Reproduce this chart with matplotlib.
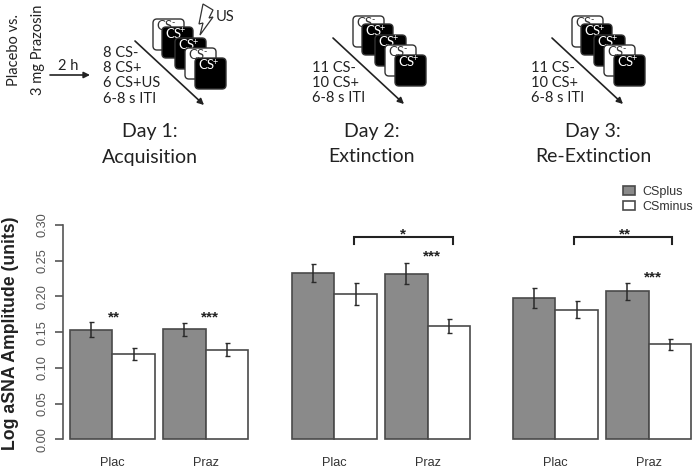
import numpy as np
import matplotlib
matplotlib.use("Agg")
import matplotlib.pyplot as plt
from matplotlib.patches import FancyBboxPatch, Polygon

# values
groups = ["Plac", "Praz"]
ticks = [0.00, 0.05, 0.10, 0.15, 0.20, 0.25, 0.30]

day1_plus = [0.1535, 0.154]
day1_minus = [0.119, 0.1255]
day1_plus_err = [0.0105, 0.0095]
day1_minus_err = [0.0085, 0.009]

day2_plus = [0.233, 0.232]
day2_minus = [0.203, 0.1587]
day2_plus_err = [0.013, 0.0145]
day2_minus_err = [0.0152, 0.0095]

day3_plus = [0.198, 0.207]
day3_minus = [0.1815, 0.133]
day3_plus_err = [0.014, 0.012]
day3_minus_err = [0.0123, 0.008]

W, H = 697, 470
GREY = "#8a8a8a"
EDGE = "#4a4a4a"
INK = "#2a2a2a"
UNIT = 42.4  # px per bar
BASE = 439.3
PX_PER_Y = 714.3
SANS = "Liberation Sans"
SCHEME = "Lato"

fig = plt.figure(figsize=(W / 100, H / 100), dpi=100)


def panel(left, plus, minus, plus_err, minus_err):
    ax = fig.add_axes([left / W, 1 - BASE / H, 4.2 * UNIT / W, 0.30 * PX_PER_Y / H])
    x = np.array([0.5, 2.7])
    b1 = ax.bar(x, plus, 1, color=GREY, edgecolor=EDGE, linewidth=1.2, label="CSplus", clip_on=False)
    b2 = ax.bar(x + 1, minus, 1, color="white", edgecolor=EDGE, linewidth=1.2, label="CSminus", clip_on=False)
    ax.errorbar(x, plus, yerr=plus_err, fmt="none", ecolor=INK, elinewidth=1.1, capsize=1.8, capthick=1)
    ax.errorbar(x + 1, minus, yerr=minus_err, fmt="none", ecolor=INK, elinewidth=1.1, capsize=1.8, capthick=1)
    ax.set_xlim(0, 4.2)
    ax.set_ylim(0, 0.30)
    ax.set_xticks([1, 3.2])
    ax.set_xticklabels(groups, fontsize=9.2, family=SANS, color="#333333")
    ax.tick_params(axis="x", length=0, pad=12.5)
    for s in ["top", "right", "left", "bottom"]:
        ax.spines[s].set_visible(False)
    ax.set_yticks([])
    ax.patch.set_alpha(0)
    return ax, b1, b2


def bracket(ax, x0, x1, y=0.283, drop=0.009):
    ax.plot([x0, x0, x1, x1], [y - drop, y, y, y - drop], color="#222222", lw=1.5,
            clip_on=False, solid_joinstyle="miter")


ax1, b1, b2 = panel(70, day1_plus, day1_minus, day1_plus_err, day1_minus_err)
ax2, _, _ = panel(292, day2_plus, day2_minus, day2_plus_err, day2_minus_err)
ax3, _, _ = panel(513, day3_plus, day3_minus, day3_plus_err, day3_minus_err)

ax1.spines["left"].set_visible(True)
ax1.spines["left"].set_position(("outward", 5))
ax1.spines["left"].set_color("#555555")
ax1.spines["left"].set_linewidth(1.2)
ax1.set_yticks(ticks)
ax1.set_yticklabels(["%.2f" % t for t in ticks], rotation=90, va="center", fontsize=9.2,
                    family=SANS, color="#555555")
ax1.tick_params(axis="y", length=6, width=1.2, color="#555555", pad=4.5)

bracket(ax2, 1.46, 3.79)
bracket(ax3, 1.44, 3.75)

fig.legend([b1, b2], ["CSplus", "CSminus"], loc="upper left",
           bbox_to_anchor=(623 / W, 1 - 186 / H), frameon=False,
           prop={"family": SANS, "size": 9}, labelcolor="#333333",
           handlelength=0.95, handleheight=0.75, handletextpad=0.6, labelspacing=0.2,
           borderpad=0, borderaxespad=0)

# schematic and annotations, in pixel coordinates
top = fig.add_axes([0, 0, 1, 1])
top.set_xlim(0, W)
top.set_ylim(H, 0)
top.axis("off")
top.patch.set_alpha(0)


def stim(x, y, black, z):
    face = "black" if black else "white"
    top.add_patch(FancyBboxPatch((x + 3, y + 3), 25, 25, boxstyle="round,pad=3,rounding_size=4",
                                 fc=face, ec="#333333", lw=1.0, zorder=z))
    col = "white" if black else "#333333"
    top.text(x + 3, y + 7, "CS", fontsize=9.5, family=SCHEME, color=col, va="center", zorder=z)
    top.text(x + 18, y + 4, "+" if black else "-", fontsize=6.5, family=SCHEME, color=col,
             va="center", zorder=z)


def cards(dx, dy):
    for i, (x, y, k) in enumerate([(153, 19, False), (162, 27, True), (175, 38, True),
                                   (185, 48, False), (195, 58, True)]):
        stim(x + dx, y + dy, k, 3 + i)


def arrow(x0, y0, x1, y1):
    top.annotate("", xy=(x1, y1), xytext=(x0, y0),
                 arrowprops=dict(arrowstyle="-|>", color="#222222", lw=1.2, mutation_scale=9,
                                 shrinkA=0, shrinkB=0))


def lines(x, ys, labels):
    for y, s in zip(ys, labels):
        top.text(x, y, s, fontsize=10.5, family=SCHEME, color="#222222", va="center")


def title(x, a, b):
    top.text(x, 131, a, fontsize=14, family=SCHEME, color="#222222", ha="center", va="center")
    top.text(x, 157, b, fontsize=14, family=SCHEME, color="#222222", ha="center", va="center")


cards(0, 0)
cards(200, -3)
cards(419, -3)
arrow(135, 41, 204, 105)
arrow(333, 38, 404, 104)
arrow(552, 38, 623, 104)
arrow(50, 75, 90, 75)

lines(103, [53, 68, 83, 99], ["8 CS-", "8 CS+", "6 CS+US", "6-8 s ITI"])
lines(312, [68, 83, 98], ["11 CS-", "10 CS+", "6-8 s ITI"])
lines(531, [68, 83, 98], ["11 CS-", "10 CS+", "6-8 s ITI"])
title(150, "Day 1:", "Acquisition")
title(372, "Day 2:", "Extinction")
title(593, "Day 3:", "Re-Extinction")

top.text(14, 50, "Placebo vs.", fontsize=10.5, family=SCHEME, color="#222222", rotation=90, ha="center", va="center")
top.text(38, 50, "3 mg Prazosin", fontsize=10.5, family=SCHEME, color="#222222", rotation=90, ha="center", va="center")
top.text(68, 66, "2 h", fontsize=10.5, family=SCHEME, color="#222222", ha="center", va="center")
top.text(216, 17, "US", fontsize=10.5, family=SCHEME, color="#222222", va="center")
top.add_patch(Polygon([(203, 4), (213, 10), (209, 18), (213, 17), (200, 35), (203, 23), (199, 24)],
                      closed=True, fc="white", ec="#333333", lw=0.9, zorder=2))

for x, y, s in [(114, 317, "**"), (210, 317, "***"), (403, 234, "*"), (432, 256, "***"),
                (625, 234, "**"), (653, 277, "***")]:
    top.text(x, y, s, fontsize=11, family=SANS, fontweight="bold", color="#222222", ha="center", va="center")

top.text(11, 333, "Log aSNA Amplitude (units)", fontsize=12.7, family=SANS, fontweight="bold",
         color="#222222", rotation=90, ha="center", va="center")

fig.savefig("out.png", dpi=100)
